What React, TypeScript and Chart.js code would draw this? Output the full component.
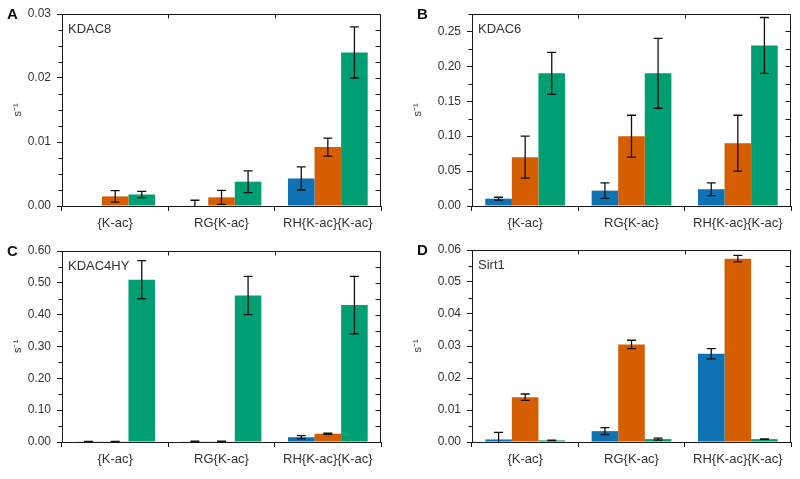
import React, { useEffect, useRef } from "react";
import { Chart, registerables } from "chart.js";
Chart.register(...registerables);

const categories = ["{K-ac}", "RG{K-ac}", "RH{K-ac}{K-ac}"];
const seriesColors = ["#0f72b2", "#d55e00", "#009e73"];

// Panel A - KDAC8
const kdac8Blue = [0, 0, 0.0043];
const kdac8BlueErr = [0, 0.0009, 0.0018];
const kdac8Orange = [0.0015, 0.00135, 0.0092];
const kdac8OrangeErr = [0.0009, 0.0011, 0.0014];
const kdac8Green = [0.0018, 0.0038, 0.024];
const kdac8GreenErr = [0.0005, 0.0017, 0.004];
const kdac8Ticks = [0, 0.01, 0.02, 0.03];

// Panel B - KDAC6
const kdac6Blue = [0.0105, 0.022, 0.024];
const kdac6BlueErr = [0.002, 0.011, 0.009];
const kdac6Orange = [0.07, 0.1, 0.09];
const kdac6OrangeErr = [0.03, 0.03, 0.04];
const kdac6Green = [0.19, 0.19, 0.23];
const kdac6GreenErr = [0.03, 0.05, 0.04];
const kdac6Ticks = [0, 0.05, 0.1, 0.15, 0.2, 0.25];

// Panel C - KDAC4HY
const kdac4Blue = [0.001, 0.002, 0.015];
const kdac4BlueErr = [0.001, 0.001, 0.005];
const kdac4Orange = [0.001, 0.002, 0.026];
const kdac4OrangeErr = [0.001, 0.001, 0.002];
const kdac4Green = [0.51, 0.46, 0.43];
const kdac4GreenErr = [0.06, 0.06, 0.09];
const kdac4Ticks = [0, 0.1, 0.2, 0.3, 0.4, 0.5, 0.6];

// Panel D - Sirt1
const sirt1Blue = [0.0008, 0.0034, 0.0276];
const sirt1BlueErr = [0.0022, 0.0011, 0.0016];
const sirt1Orange = [0.014, 0.0305, 0.0573];
const sirt1OrangeErr = [0.001, 0.0013, 0.001];
const sirt1Green = [0.0005, 0.0009, 0.0009];
const sirt1GreenErr = [0.0001, 0.0003, 0.0001];
const sirt1Ticks = [0, 0.01, 0.02, 0.03, 0.04, 0.05, 0.06];

const FONT = "'Liberation Sans', Arial, Helvetica, sans-serif";
const INK = "#1a1a1a";
const TEXT = "#333333";

type Panel = {
  letter: string;
  name: string;
  x: number;
  y: number;
  w: number;
  h: number;
  plotLeft: number;
  plotRight: number;
  plotTop: number;
  plotBottom: number;
  yMax: number;
  yTicks: number[];
  minorStep: number;
  values: number[][];
  errors: number[][];
};

const panels: Panel[] = [
  {
    letter: "A", name: "KDAC8", x: 0, y: 0, w: 400, h: 230,
    plotLeft: 62, plotRight: 381, plotTop: 14, plotBottom: 206,
    yMax: 0.03, yTicks: kdac8Ticks, minorStep: 0.0025,
    values: [kdac8Blue, kdac8Orange, kdac8Green],
    errors: [kdac8BlueErr, kdac8OrangeErr, kdac8GreenErr],
  },
  {
    letter: "B", name: "KDAC6", x: 400, y: 0, w: 400, h: 230,
    plotLeft: 72, plotRight: 391, plotTop: 14, plotBottom: 206,
    yMax: 0.275, yTicks: kdac6Ticks, minorStep: 0.025,
    values: [kdac6Blue, kdac6Orange, kdac6Green],
    errors: [kdac6BlueErr, kdac6OrangeErr, kdac6GreenErr],
  },
  {
    letter: "C", name: "KDAC4HY", x: 0, y: 230, w: 400, h: 249,
    plotLeft: 62, plotRight: 381, plotTop: 21, plotBottom: 212,
    yMax: 0.6, yTicks: kdac4Ticks, minorStep: 0.05,
    values: [kdac4Blue, kdac4Orange, kdac4Green],
    errors: [kdac4BlueErr, kdac4OrangeErr, kdac4GreenErr],
  },
  {
    letter: "D", name: "Sirt1", x: 400, y: 230, w: 400, h: 249,
    plotLeft: 72, plotRight: 391, plotTop: 20, plotBottom: 212,
    yMax: 0.06, yTicks: sirt1Ticks, minorStep: 0.005,
    values: [sirt1Blue, sirt1Orange, sirt1Green],
    errors: [sirt1BlueErr, sirt1OrangeErr, sirt1GreenErr],
  },
];

function makePlugin(p: Panel) {
  return {
    id: "decor" + p.letter,
    afterDatasetsDraw(chart: any) {
      const ctx = chart.ctx;
      const ys = chart.scales.y;
      const area = chart.chartArea;
      ctx.save();
      ctx.beginPath();
      ctx.rect(area.left, area.top - 2, area.right - area.left, area.bottom - area.top + 2);
      ctx.clip();
      ctx.strokeStyle = "#111";
      ctx.lineWidth = 1.3;
      p.values.forEach((vals, d) => {
        const meta = chart.getDatasetMeta(d);
        vals.forEach((v, i) => {
          const e = p.errors[d][i];
          if (!e) return;
          const bx = meta.data[i].x;
          const yHi = ys.getPixelForValue(v + e);
          const yLo = ys.getPixelForValue(v - e);
          ctx.beginPath();
          ctx.moveTo(bx, yHi);
          ctx.lineTo(bx, yLo);
          ctx.moveTo(bx - 4.5, yHi);
          ctx.lineTo(bx + 4.5, yHi);
          ctx.moveTo(bx - 4.5, yLo);
          ctx.lineTo(bx + 4.5, yLo);
          ctx.stroke();
        });
      });
      ctx.restore();
    },
    afterDraw(chart: any) {
      const ctx = chart.ctx;
      const ys = chart.scales.y;
      const xs = chart.scales.x;
      const a = chart.chartArea;
      const L = Math.round(a.left) + 0.5;
      const R = Math.round(a.right) - 0.5;
      const T = Math.round(a.top) + 0.5;
      ctx.save();
      ctx.strokeStyle = INK;
      ctx.lineWidth = 1;
      ctx.beginPath();
      // top and right frame
      ctx.moveTo(L, T);
      ctx.lineTo(R, T);
      ctx.lineTo(R, Math.round(a.bottom));
      // minor & mirrored ticks
      const n = Math.round(p.yMax / p.minorStep);
      for (let k = 0; k <= n; k++) {
        const v = k * p.minorStep;
        const yy = Math.round(ys.getPixelForValue(v)) + 0.5;
        const isMajor = p.yTicks.some((t) => Math.abs(t - v) < p.minorStep / 10);
        if (!isMajor) {
          ctx.moveTo(L - 4, yy);
          ctx.lineTo(L, yy);
        }
        ctx.moveTo(R - 5, yy);
        ctx.lineTo(R, yy);
      }
      // top ticks at category boundaries
      for (let i = 0; i < categories.length - 1; i++) {
        const bx = Math.round((xs.getPixelForValue(i) + xs.getPixelForValue(i + 1)) / 2) + 0.5;
        ctx.moveTo(bx, T);
        ctx.lineTo(bx, T + 4);
      }
      ctx.stroke();
      // panel letter & name
      ctx.fillStyle = "#111";
      ctx.font = "bold 15px " + FONT;
      ctx.textBaseline = "middle";
      ctx.textAlign = "left";
      ctx.fillText(p.letter, p.x === 0 ? 7 : 17, a.top + 1);
      ctx.fillStyle = TEXT;
      ctx.font = "13px " + FONT;
      ctx.fillText(p.name, a.left + 6, a.top + 15);
      ctx.restore();
    },
  };
}

function PanelChart({ p }: { p: Panel }) {
  const ref = useRef<HTMLCanvasElement | null>(null);
  useEffect(() => {
    if (!ref.current) return;
    const chart = new Chart(ref.current, {
      type: "bar",
      data: {
        labels: categories,
        datasets: p.values.map((vals, d) => ({
          data: vals,
          backgroundColor: seriesColors[d],
          borderWidth: 0,
          categoryPercentage: 0.75,
          barPercentage: 1.0,
        })),
      },
      options: {
        responsive: false,
        animation: false,
        devicePixelRatio: 1,
        layout: { padding: { top: p.plotTop, right: p.w - p.plotRight, left: 0, bottom: 0 } },
        plugins: { legend: { display: false }, tooltip: { enabled: false } },
        scales: {
          x: {
            offset: true,
            grid: { offset: true, drawOnChartArea: false, drawTicks: true, tickLength: 5, color: INK, lineWidth: 1 },
            border: { display: true, color: INK, width: 1 },
            ticks: { color: TEXT, font: { family: FONT, size: 13 }, padding: 5, maxRotation: 0, autoSkip: false },
            afterFit: (s: any) => { s.height = p.h - p.plotBottom; },
          },
          y: {
            min: 0,
            max: p.yMax,
            afterBuildTicks: (s: any) => { s.ticks = p.yTicks.map((v) => ({ value: v })); },
            grid: { drawOnChartArea: false, drawTicks: true, tickLength: 5, color: INK, lineWidth: 1 },
            border: { display: true, color: INK, width: 1 },
            ticks: { color: TEXT, font: { family: FONT, size: 12 }, padding: 6, callback: (v: any) => Number(v).toFixed(2) },
            title: { display: true, text: "s⁻¹", color: TEXT, font: { family: FONT, size: 11 }, padding: { top: 11, bottom: 0 } },
            afterFit: (s: any) => { s.width = p.plotLeft; },
          },
        },
      } as any,
      plugins: [makePlugin(p)],
    });
    return () => chart.destroy();
  }, [p]);
  return (
    <canvas
      ref={ref}
      width={p.w}
      height={p.h}
      style={{ position: "absolute", left: p.x, top: p.y, width: p.w, height: p.h }}
    />
  );
}

export default function App() {
  return (
    <div style={{ position: "fixed", left: 0, top: 0, width: 800, height: 479, background: "#fff" }}>
      {panels.map((p) => (
        <PanelChart key={p.letter} p={p} />
      ))}
    </div>
  );
}
